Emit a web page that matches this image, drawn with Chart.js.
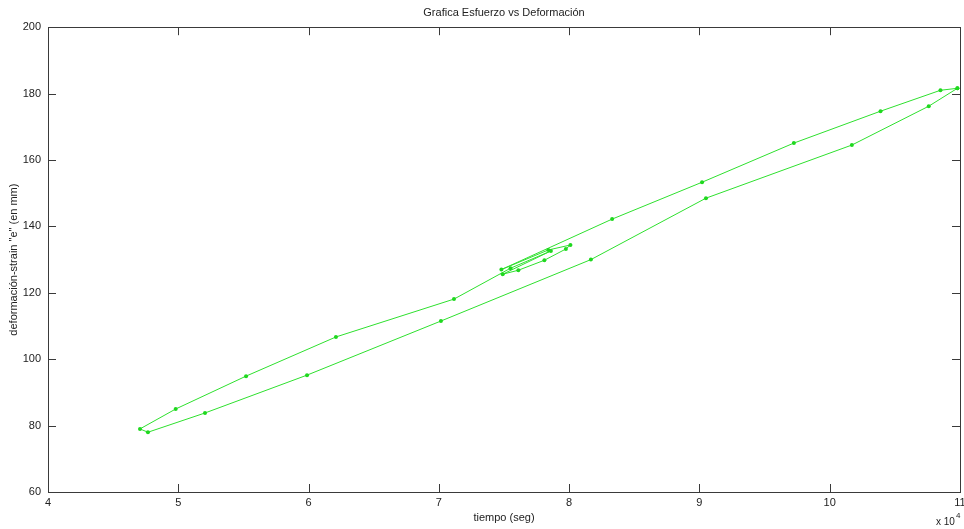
<!DOCTYPE html>
<html>
<head>
<meta charset="utf-8">
<script src="https://cdn.jsdelivr.net/npm/chart.js@4/dist/chart.umd.min.js"></script>
<style>
html,body{margin:0;padding:0;background:#fff;}
#wrap{width:964px;height:529px;}
</style>
</head>
<body>
<div id="wrap"><canvas id="c" width="964" height="529"></canvas></div>
<script>
// tiempo (x 10^4 seg)
const tiempo = [10.98, 10.85, 10.39, 9.725, 9.02, 8.33, 7.48, 7.84, 8.01, 7.975, 7.81, 7.61, 7.49, 7.86, 7.55, 7.116, 6.21, 5.52, 4.98, 4.706, 4.767, 5.205, 5.988, 7.016, 8.167, 9.05, 10.17, 10.76, 10.98];
// deformación (mm)
const deformacion = [181.6, 181.0, 174.7, 165.1, 153.3, 142.2, 127.0, 132.9, 134.4, 133.2, 129.8, 126.8, 125.6, 132.6, 127.4, 118.1, 106.7, 94.9, 85.0, 79.0, 78.0, 83.8, 95.2, 111.5, 130.0, 148.5, 164.5, 176.2, 181.6];
const xTicks = [4, 5, 6, 7, 8, 9, 10, 11];
const yTicks = [60, 80, 100, 120, 140, 160, 180, 200];

const FONT = "'Liberation Sans', Arial, sans-serif";
const AXIS = '#3a3a3a';

const boxTicks = {
  id: 'boxTicks',
  afterDatasetsDraw(chart) {
    const {ctx, chartArea: a, scales} = chart;
    ctx.save();
    ctx.strokeStyle = AXIS;
    ctx.lineWidth = 1;
    ctx.strokeRect(Math.round(a.left) + 0.5, Math.round(a.top) + 0.5, Math.round(a.right - a.left), Math.round(a.bottom - a.top));
    const L = 8;
    ctx.beginPath();
    xTicks.forEach(v => {
      const px = Math.round(scales.x.getPixelForValue(v)) + 0.5;
      ctx.moveTo(px, a.bottom); ctx.lineTo(px, a.bottom - L);
      ctx.moveTo(px, a.top); ctx.lineTo(px, a.top + L);
    });
    yTicks.forEach(v => {
      const py = Math.round(scales.y.getPixelForValue(v)) + 0.5;
      ctx.moveTo(a.left, py); ctx.lineTo(a.left + L, py);
      ctx.moveTo(a.right, py); ctx.lineTo(a.right - L, py);
    });
    ctx.stroke();
    // exponent label
    ctx.fillStyle = '#222';
    ctx.font = '10px ' + FONT;
    ctx.textBaseline = 'alphabetic';
    ctx.textAlign = 'left';
    ctx.fillText('x 10', 936, 525);
    ctx.font = '8px ' + FONT;
    ctx.fillText('4', 956, 518);
    ctx.restore();
  }
};

new Chart(document.getElementById('c'), {
  type: 'scatter',
  data: {
    datasets: [{
      data: tiempo.map((t, i) => ({x: t, y: deformacion[i]})),
      showLine: true,
      borderColor: '#2ee02e',
      backgroundColor: '#1fd81f',
      borderWidth: 1,
      pointRadius: 2,
      pointBorderWidth: 0,
      pointHoverRadius: 2,
      tension: 0
    }]
  },
  options: {
    responsive: false,
    animation: false,
    events: [],
    layout: {padding: {left: 0, right: 4, top: 0, bottom: 0}},
    plugins: {
      legend: {display: false},
      tooltip: {enabled: false},
      title: {
        display: true,
        text: 'Grafica Esfuerzo vs Deformación',
        fullSize: false,
        color: '#222',
        font: {family: FONT, size: 11, weight: 'normal'},
        padding: {top: 6, bottom: 8}
      }
    },
    scales: {
      x: {
        type: 'linear',
        min: 4, max: 11,
        afterBuildTicks: s => { s.ticks = xTicks.map(v => ({value: v})); },
        afterFit: s => { s.height = 37; s.paddingLeft = 0; s.paddingRight = 0; },
        grid: {display: false, drawTicks: false},
        border: {display: false},
        ticks: {color: '#222', padding: 4, font: {family: FONT, size: 11}, maxRotation: 0, autoSkip: false},
        title: {display: true, text: 'tiempo (seg)', color: '#222', font: {family: FONT, size: 11}, padding: {top: 0, bottom: 4}}
      },
      y: {
        type: 'linear',
        min: 60, max: 200,
        afterBuildTicks: s => { s.ticks = yTicks.map(v => ({value: v})); },
        afterFit: s => { s.width = 48; s.paddingTop = 0; s.paddingBottom = 0; },
        grid: {display: false, drawTicks: false},
        border: {display: false},
        ticks: {color: '#222', padding: 7, font: {family: FONT, size: 11}, autoSkip: false},
        title: {display: true, text: 'deformación-strain "e" (en mm)', color: '#222', font: {family: FONT, size: 11}, padding: {top: 7, bottom: 0}}
      }
    }
  },
  plugins: [boxTicks]
});
</script>
</body>
</html>
